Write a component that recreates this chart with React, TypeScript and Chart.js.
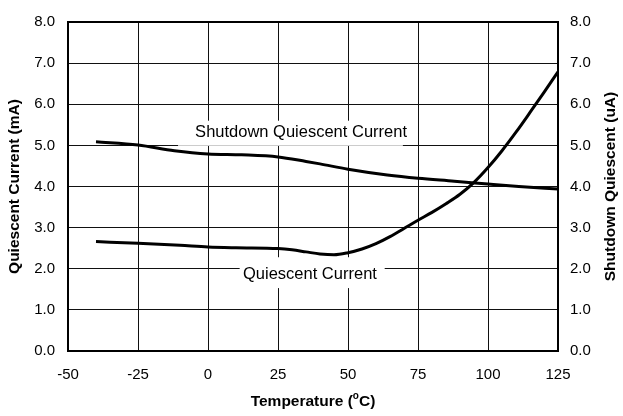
import React, { useEffect, useRef } from "react";
import { Chart, registerables } from "chart.js";
Chart.register(...registerables);

// Temperature (°C) sample points
const quiescentTemps = [-40, -25, -10, 0, 10, 25, 30, 35, 40, 45, 50, 55, 60, 65, 70, 75, 80, 85, 90, 95, 100, 105, 110, 115, 120, 125];
const quiescentMA = [2.66, 2.62, 2.57, 2.53, 2.51, 2.49, 2.46, 2.41, 2.36, 2.34, 2.39, 2.48, 2.61, 2.78, 2.98, 3.18, 3.37, 3.58, 3.81, 4.10, 4.46, 4.87, 5.32, 5.80, 6.29, 6.79];

const shutdownTemps = [-40, -25, -12, 0, 12, 25, 35, 40, 50, 64, 75, 88, 100, 111, 125];
const shutdownUA = [5.09, 5.01, 4.87, 4.79, 4.77, 4.72, 4.61, 4.55, 4.42, 4.28, 4.20, 4.13, 4.06, 4.00, 3.94];

const xTicks = [-50, -25, 0, 25, 50, 75, 100, 125];
const yTicks = [0, 1, 2, 3, 4, 5, 6, 7, 8];

const xTitle = "Temperature (";
const xTitleSup = "o";
const xTitleEnd = "C)";
const yLeftTitle = "Quiescent Current (mA)";
const yRightTitle = "Shutdown Quiescent (uA)";

const shutdownLabel = "Shutdown Quiescent Current";
const quiescentLabel = "Quiescent Current";
// label anchors in data units: [left temp, centre value], box [x0, x1, yTop, yBottom]
const shutdownLabelPos = [-4.6, 5.32];
const shutdownBox = [-10.7, 69.6, 5.6, 4.99];
const quiescentLabelPos = [12.5, 1.85];
const quiescentBox = [11.3, 63.1, 2.28, 1.53];

const FONT = "Arial, 'Liberation Sans', sans-serif";

export default function App() {
  const ref = useRef<HTMLCanvasElement | null>(null);
  useEffect(() => {
    document.body.style.margin = "0";
    const canvas = ref.current!;
    const overlay = {
      id: "overlay",
      beforeDatasetsDraw(chart: any) {
        const { ctx } = chart;
        const xs = chart.scales.x;
        const ys = chart.scales.y;
        ctx.save();
        ctx.fillStyle = "#fff";
        for (const b of [shutdownBox, quiescentBox]) {
          const x0 = xs.getPixelForValue(b[0]);
          const x1 = xs.getPixelForValue(b[1]);
          const y0 = ys.getPixelForValue(b[2]);
          const y1 = ys.getPixelForValue(b[3]);
          ctx.fillRect(x0, y0, x1 - x0, y1 - y0);
        }
        ctx.fillStyle = "#000";
        ctx.font = `16.5px ${FONT}`;
        ctx.textBaseline = "middle";
        ctx.textAlign = "left";
        ctx.fillText(shutdownLabel, xs.getPixelForValue(shutdownLabelPos[0]), ys.getPixelForValue(shutdownLabelPos[1]));
        ctx.fillText(quiescentLabel, xs.getPixelForValue(quiescentLabelPos[0]), ys.getPixelForValue(quiescentLabelPos[1]));
        ctx.restore();
      },
      afterDraw(chart: any) {
        const { ctx, chartArea: a } = chart;
        ctx.save();
        ctx.strokeStyle = "#000";
        ctx.lineWidth = 2;
        ctx.strokeRect(a.left, a.top, a.right - a.left, a.bottom - a.top);
        // titles
        ctx.fillStyle = "#000";
        ctx.font = `bold 15.5px ${FONT}`;
        ctx.textBaseline = "middle";
        const cy = (a.top + a.bottom) / 2;
        ctx.save();
        ctx.translate(15, cy);
        ctx.rotate(-Math.PI / 2);
        ctx.textAlign = "center";
        ctx.fillText(yLeftTitle, 0, 0);
        ctx.restore();
        ctx.save();
        ctx.translate(611, cy);
        ctx.rotate(-Math.PI / 2);
        ctx.textAlign = "center";
        ctx.fillText(yRightTitle, 0, 0);
        ctx.restore();
        // x title with superscript
        const supFont = `bold 10px ${FONT}`;
        const mainFont = `bold 15.5px ${FONT}`;
        ctx.font = mainFont;
        const w1 = ctx.measureText(xTitle).width;
        const w3 = ctx.measureText(xTitleEnd).width;
        ctx.font = supFont;
        const w2 = ctx.measureText(xTitleSup).width;
        const total = w1 + w2 + w3;
        let x = (a.left + a.right) / 2 - total / 2;
        const y = 402;
        ctx.textAlign = "left";
        ctx.font = mainFont;
        ctx.fillText(xTitle, x, y);
        x += w1;
        ctx.font = supFont;
        ctx.fillText(xTitleSup, x, y - 6);
        x += w2;
        ctx.font = mainFont;
        ctx.fillText(xTitleEnd, x, y);
        ctx.restore();
      },
    };
    const chart = new Chart(canvas, {
      type: "line",
      data: {
        datasets: [
          {
            label: quiescentLabel,
            data: quiescentTemps.map((t, i) => ({ x: t, y: quiescentMA[i] })),
            borderColor: "#000",
            borderWidth: 3,
            pointRadius: 0,
            cubicInterpolationMode: "monotone",
            yAxisID: "y",
          },
          {
            label: shutdownLabel,
            data: shutdownTemps.map((t, i) => ({ x: t, y: shutdownUA[i] })),
            borderColor: "#000",
            borderWidth: 3,
            pointRadius: 0,
            cubicInterpolationMode: "monotone",
            yAxisID: "y1",
          },
        ],
      },
      options: {
        responsive: false,
        animation: false,
        layout: { padding: { top: 14, left: 0, right: 0, bottom: 0 } },
        plugins: { legend: { display: false }, tooltip: { enabled: false } },
        scales: {
          x: {
            type: "linear",
            min: -50,
            max: 125,
            afterBuildTicks: (s: any) => { s.ticks = xTicks.map((v) => ({ value: v })); },
            afterFit: (s: any) => { s.height = 65; },
            grid: { color: "#111", lineWidth: 1, drawTicks: false },
            border: { color: "#000", width: 2 },
            ticks: { color: "#000", font: { family: FONT, size: 15 }, padding: 15, maxRotation: 0 },
          },
          y: {
            type: "linear",
            position: "left",
            min: 0,
            max: 8,
            afterBuildTicks: (s: any) => { s.ticks = yTicks.map((v) => ({ value: v })); },
            afterFit: (s: any) => { s.width = 68; },
            grid: { color: "#111", lineWidth: 1, drawTicks: false },
            border: { color: "#000", width: 2 },
            ticks: { color: "#000", font: { family: FONT, size: 15 }, padding: 13, callback: (v: any) => Number(v).toFixed(1) },
          },
          y1: {
            type: "linear",
            position: "right",
            min: 0,
            max: 8,
            afterBuildTicks: (s: any) => { s.ticks = yTicks.map((v) => ({ value: v })); },
            afterFit: (s: any) => { s.width = 65; },
            grid: { display: false, drawTicks: false },
            border: { color: "#000", width: 2 },
            ticks: { color: "#000", font: { family: FONT, size: 15 }, padding: 12, callback: (v: any) => Number(v).toFixed(1) },
          },
        },
      },
      plugins: [overlay],
    } as any);
    return () => chart.destroy();
  }, []);
  return <canvas ref={ref} width={623} height={416} style={{ display: "block" }} />;
}
